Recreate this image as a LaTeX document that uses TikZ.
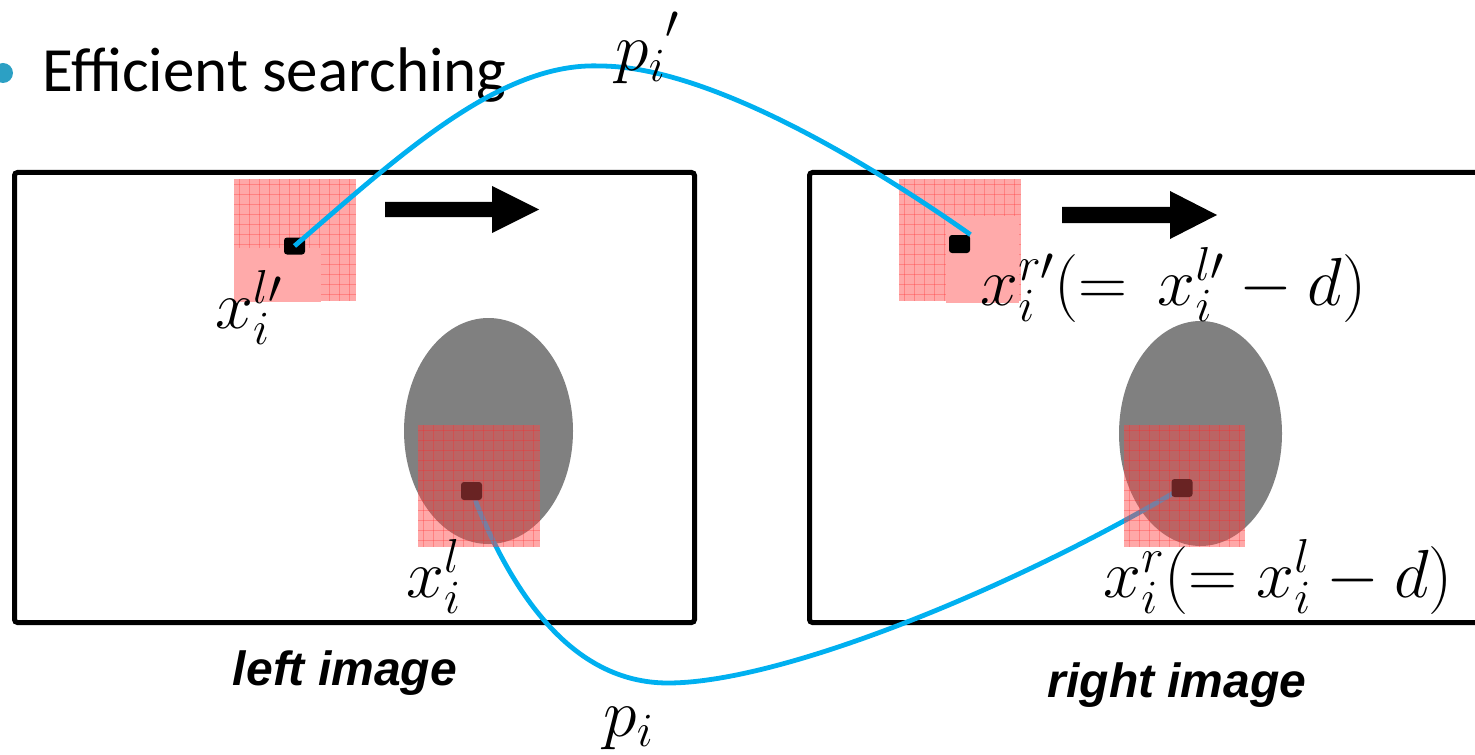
\documentclass[tikz,border=0pt]{standalone}
\usepackage{fix-cm}
\usepackage{fontspec}
\newfontfamily\carl{Carlito}
\newfontfamily\arialf{Liberation Sans}
\definecolor{cblue}{RGB}{0,176,240}
\definecolor{bulletc}{RGB}{44,160,196}
\definecolor{patchred}{RGB}{255,70,70}
\definecolor{solidpink}{RGB}{255,170,170}
\definecolor{gridred}{RGB}{255,40,40}
\definecolor{ellgray}{RGB}{128,128,128}
\definecolor{darksq}{RGB}{105,35,35}
\newcommand\gridpatch[4]{%
  \fill[patchred, fill opacity=0.47] (#1,#2) rectangle (#3,#4);
  \begin{scope}
    \clip (#1,#2) rectangle (#3,#4);
    \foreach \gx in {5,15,...,125} \draw[gridline] ({#1+\gx},#2) -- ({#1+\gx},#4);
    \foreach \gy in {5,15,...,125} \draw[gridline] (#1,{#2+\gy}) -- (#3,{#2+\gy});
  \end{scope}}
\tikzset{
  frame/.style={draw=black, line width=2.5pt, rounded corners=1.5pt},
  gridline/.style={draw=gridred, draw opacity=0.3, line width=0.4pt},
  blacksq/.style={fill=black, rounded corners=1.5pt, inner sep=0pt, minimum width=10.5pt, minimum height=8.5pt},
  darkbox/.style={fill=darksq, rounded corners=1.5pt, inner sep=0pt, minimum width=10.5pt, minimum height=9pt},
  link/.style={draw=cblue, line width=2.4pt},
  mathlbl/.style={inner sep=0pt, anchor=base west, font=\fontsize{34}{40}\selectfont},
  caplbl/.style={inner sep=0pt, anchor=base, font=\arialf\bfseries\itshape\fontsize{24}{28}\selectfont},
  bigarrow/.style={fill=black}
}
\begin{document}
\begin{tikzpicture}[x=0.5pt,y=-0.5pt]
\useasboundingbox (0,0) rectangle (1475,754);
\clip (0,0) rectangle (1475,754);
% title
\fill[bulletc] (3,73) circle (5pt);
\node[inner sep=0pt, anchor=base west, font=\carl\fontsize{31.5}{36}\selectfont] (title) at (42,92) {Efficient searching};
% image frames
\draw[frame] (14.5,172.5) rectangle (694.5,622.5);
\draw[frame] (809.5,172.5) rectangle (1495,622.5);
% ellipses
\fill[ellgray] (488.5,431) ellipse [x radius=84.5, y radius=113];
\fill[ellgray] (1200.5,433.5) ellipse [x radius=81.5, y radius=112.5];
% points on ellipses (placed first so connectors can start there)
\coordinate (blc) at (471.5,491);
\coordinate (brc) at (1182,488);
% lower connector
\draw[link] (blc) .. controls (510,590) and (570,683) .. (668,683)
            .. controls (780,683) and (1010,590) .. (brc);
% lower patches
\gridpatch{418}{425}{540}{547}
\gridpatch{1124}{425}{1245}{547}
\node[darkbox] (bl) at (blc) {};
\node[darkbox] (br) at (brc) {};
% upper patches
\gridpatch{234}{179}{356}{301}
\fill[solidpink] (234,248) rectangle (321,302);
\gridpatch{899}{179}{1021}{301}
\fill[solidpink] (946,216) rectangle (1019,303);
\node[blacksq] (tl) at (294.5,246) {};
\node[blacksq, minimum height=9pt] (tr) at (959.5,244) {};
% upper connector
\draw[link] (tl.center) .. controls (400,155) and (500,62) .. (600,66)
            .. controls (700,66) and (850,150) .. (tr.north east);
% arrows
\fill[bigarrow] (385,202) -- (492,202) -- (492,186) -- (539,209.5) -- (492,233) -- (492,217) -- (385,217) -- cycle;
\fill[bigarrow] (1062,207) -- (1170,207) -- (1170,191) -- (1217,215) -- (1170,239) -- (1170,223) -- (1062,223) -- cycle;
% labels
\node[mathlbl] (lbltl) at (215,328) {$x_i^{l\prime}$};
\node[mathlbl] (lblbl) at (406,597) {$x_i^{l}$};
\node[mathlbl] (lbltr) at (980,305) {$x_i^{r\prime}(=\,x_i^{l\prime}-d)$};
\node[mathlbl] (lblbr) at (1103,597) {$x_i^{r}(=x_i^{l}-d)$};
\node[mathlbl] (ptop) at (615,71) {$p_i\raisebox{16pt}{$\scriptstyle\prime$}$};
\node[mathlbl] (pbot) at (603,736) {$p_i$};
\node[caplbl] (leftcap) at (345,685) {left image};
\node[caplbl] (rightcap) at (1177,697) {right image};
\end{tikzpicture}
\end{document}
